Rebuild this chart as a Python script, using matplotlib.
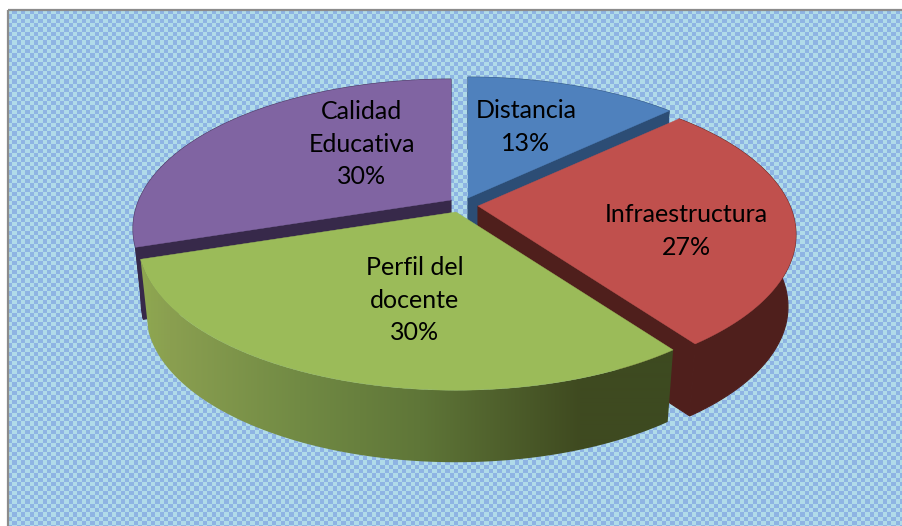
import numpy as np
import matplotlib
matplotlib.use("Agg")
import matplotlib.pyplot as plt
from matplotlib.patches import Polygon, Rectangle
from matplotlib.colors import to_rgb

# Chart data
categories = ["Distancia", "Infraestructura", "Perfil del\ndocente", "Calidad\nEducativa"]
percent = [13, 27, 30, 30]

# Slice styles
top_colors = ["#4f81bd", "#c0504d", "#9bbb59", "#8064a2"]
wall_colors = ["#2c4d75", "#4f1f1c", "#3d4a20", "#37294a"]
centers = [(468, 198), (478, 206), (456, 212), (451, 200)]
label_pos = [(526, 127), (686, 231), (415, 300), (362, 144)]

# Projection of the tilted disc, in pixels
F = 312.0
G = 144.0
K = 0.192
DEPTH = 72.0
SHRINK = 0.975


def project(angle, center, lower=False):
    """Map clockwise angles (degrees from the top) on the disc to pixels."""
    a = np.radians(angle)
    den = 1 + K * np.cos(a)
    scale = SHRINK if lower else 1.0
    x = center[0] + scale * F * np.sin(a) / den
    y = center[1] - G * np.cos(a) / den + (DEPTH if lower else 0)
    return x, y


def checker_background(ax):
    """Fill the plot frame with the small blue check pattern."""
    cell = 4.33
    nx = int((903 - 8) / cell) + 1
    ny = int((526 - 10) / cell) + 1
    light = np.array(to_rgb("#b0dbe9"))
    dark = np.array(to_rgb("#8eb4e3"))
    mask = (np.indices((ny, nx)).sum(axis=0) % 2).astype(bool)
    img = np.where(mask[..., None], dark, light)
    ax.imshow(img, extent=(8, 8 + nx * cell, 10 + ny * cell, 10),
              interpolation="nearest", zorder=0, aspect="auto")


def draw_slice(ax, start, end, center, top, wall, gradient=False):
    angles = np.linspace(start, end, 240)
    tx, ty = project(angles, center)
    bx, by = project(angles, center, lower=True)
    ax0, ay0 = center

    # flat side walls that face the viewer
    for ang, visible in ((start, np.sin(np.radians(start)) < -1e-6),
                         (end, np.sin(np.radians(end)) > 1e-6)):
        if visible:
            ex, ey = project(ang, center)
            fx, fy = project(ang, center, lower=True)
            ax.add_patch(Polygon([(ax0, ay0), (ex, ey), (fx, fy), (ax0, ay0 + DEPTH)],
                                 closed=True, fc=wall, ec=wall, lw=0.8))

    # outer curved wall
    outline = np.vstack([np.c_[tx, ty], np.c_[bx, by][::-1]])
    if gradient:
        # horizontal shading of the front wall, clipped to its outline
        stops_x = [138, 170, 300, 420, 580, 680]
        stops_c = np.array([to_rgb(c) for c in
                            ["#8fa950", "#8a9f50", "#718a44", "#5f7638", "#3f4a20", "#3d4a20"]])
        xs = np.arange(130, 690)
        img = np.stack([np.interp(xs, stops_x, stops_c[:, k]) for k in range(3)], axis=-1)[None, ...]
        im = ax.imshow(img, extent=(130, 690, 480, 240), aspect="auto",
                       interpolation="bilinear", zorder=1)
        im.set_clip_path(Polygon(outline, closed=True, transform=ax.transData))
    else:
        ax.add_patch(Polygon(outline, closed=True, fc=wall, ec=wall, lw=0.8))

    # top face
    ax.add_patch(Polygon(np.vstack([[center], np.c_[tx, ty]]),
                         closed=True, fc=top, ec=top, lw=0.3))


fig = plt.figure(figsize=(9.03, 5.26), dpi=100)
ax = fig.add_axes([0, 0, 1, 1])
ax.set_xlim(0, 903)
ax.set_ylim(526, 0)
ax.axis("off")

checker_background(ax)
ax.add_patch(Rectangle((8, 10), 900, 520, fc="none", ec="#8c8c8c", lw=1.6, zorder=5))

# Slice angles from the values, clockwise from 12 o'clock
edges = np.cumsum([0] + percent) / sum(percent) * 360

# painter's order: back slices first
for i in [0, 3, 1, 2]:
    draw_slice(ax, edges[i], edges[i + 1], centers[i], top_colors[i], wall_colors[i],
               gradient=(i == 2))

for name, pct, (x, y) in zip(categories, percent, label_pos):
    ax.text(x, y, f"{name}\n{pct}%", ha="center", va="center", fontsize=18,
            family="Lato", color="black", linespacing=1.5, zorder=6)

ax.set_xlim(0, 903)
ax.set_ylim(526, 0)
fig.savefig("out.png", dpi=100, facecolor="white")
